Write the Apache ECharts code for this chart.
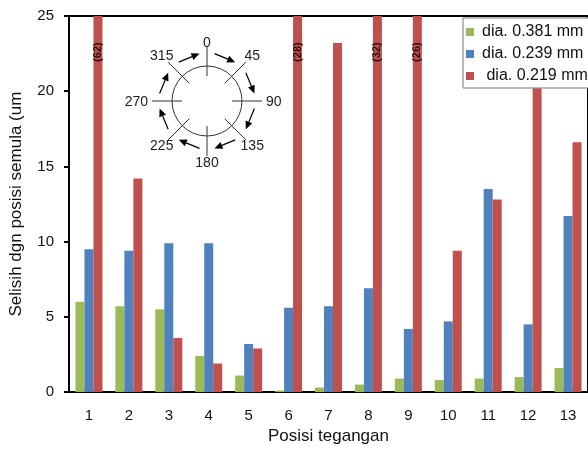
<!DOCTYPE html>
<html><head><meta charset="utf-8">
<script src="https://cdn.jsdelivr.net/npm/echarts@6/dist/echarts.min.js"></script>
<style>html,body{margin:0;padding:0;background:#fff}#c{width:588px;height:450px}</style>
</head><body><div id="c"></div>
<script>
// ---- data ----
const categories = ['1','2','3','4','5','6','7','8','9','10','11','12','13'];
const seriesNames = ['dia. 0.381 mm', 'dia. 0.239 mm', ' dia. 0.219 mm'];
const dia0381 = [6.0, 5.7, 5.5, 2.4, 1.1, 0.1, 0.3, 0.5, 0.9, 0.8, 0.9, 1.0, 1.6];
const dia0239 = [9.5, 9.4, 9.9, 9.9, 3.2, 5.6, 5.7, 6.9, 4.2, 4.7, 13.5, 4.5, 11.7];
const dia0219 = [62, 14.2, 3.6, 1.9, 2.9, 28, 23.2, 32, 26, 9.4, 12.8, 20.2, 16.6];
const yMin = 0, yMax = 25, yInterval = 5;
const compassAngles = [0, 45, 90, 135, 180, 225, 270, 315];

// ---- styles ----
const FONT = "'Liberation Sans', Arial, sans-serif";
const NARROW = "'Liberation Sans Narrow', 'Liberation Sans', Arial, sans-serif";
const colors = ['#9BBB59', '#4F81BD', '#C0504D'];
const LABEL_Y = 22.6; // anchor (data units) for labels of clipped bars

// ---- compass inset (decoration) ----
const cx = 207, cy = 101;
const rad = d => d * Math.PI / 180;
const g = [];
g.push({type:'circle', shape:{cx:cx, cy:cy, r:35}, style:{fill:'none', stroke:'#333', lineWidth:1}, z:10});
compassAngles.forEach(a => {
  const s = Math.sin(rad(a)), c = -Math.cos(rad(a));
  g.push({type:'line', shape:{x1:cx+25*s, y1:cy+25*c, x2:cx+55*s, y2:cy+55*c}, style:{stroke:'#333', lineWidth:1}, z:10});
  let tx, ty, al = 'center', va = 'middle';
  if (a === 0) { tx = cx; ty = cy - 51; va = 'bottom'; }
  else if (a === 180) { tx = cx; ty = cy + 55; va = 'top'; }
  else if (a === 90) { tx = cx + 59; ty = cy + 1; al = 'left'; }
  else if (a === 270) { tx = cx - 59; ty = cy + 1; al = 'right'; }
  else { tx = cx + 64 * s; ty = cy + 64 * c; }
  g.push({type:'text', x:tx, y:ty, z:10, style:{text:String(a), font:'14px ' + NARROW, fill:'#222', align:al, verticalAlign:va}});
  // arrow (clockwise)
  const R = 48, a1 = rad(a + 9), a2 = rad(a + 36);
  const x1 = cx + R*Math.sin(a1), y1 = cy - R*Math.cos(a1);
  const x2 = cx + R*Math.sin(a2), y2 = cy - R*Math.cos(a2);
  const dx = x2-x1, dy = y2-y1, L = Math.hypot(dx, dy), ux = dx/L, uy = dy/L;
  const hl = 8, hw = 3.6, bx = x2 - ux*hl, by = y2 - uy*hl;
  g.push({type:'line', shape:{x1:x1, y1:y1, x2:bx, y2:by}, style:{stroke:'#000', lineWidth:1.2}, z:10});
  g.push({type:'polygon', shape:{points:[[x2,y2],[bx-uy*hw, by+ux*hw],[bx+uy*hw, by-ux*hw]]}, style:{fill:'#000'}, z:10});
});

const clipLabelData = [];
dia0219.forEach((v, i) => { if (v > yMax) clipLabelData.push([categories[i], LABEL_Y, v]); });

const chart = echarts.init(document.getElementById('c'));
chart.setOption({
  animation: false,
  backgroundColor: '#fff',
  textStyle: {fontFamily: FONT},
  grid: {left: 68, top: 16, right: -5, bottom: 53, show: true, borderColor: '#000', borderWidth: 2, backgroundColor: 'transparent'},
  legend: {
    orient: 'vertical', left: 463, top: 18, data: seriesNames,
    icon: 'rect', itemWidth: 8, itemHeight: 8, itemGap: 6,
    backgroundColor: '#fff', borderColor: '#777', borderWidth: 1, padding: [6, 10, 4, 3],
    textStyle: {fontSize: 16, fontFamily: FONT, color: '#111', padding: [0, 0, 0, 3]}
  },
  xAxis: [{
    type: 'category', data: categories,
    name: 'Posisi tegangan', nameLocation: 'middle', nameGap: 34,
    nameTextStyle: {fontSize: 17, fontFamily: FONT, color: '#111'},
    axisLine: {lineStyle: {color: '#000', width: 2}},
    axisTick: {length: 6, lineStyle: {color: '#000', width: 2}},
    axisLabel: {fontSize: 15, margin: 16, color: '#111', fontFamily: FONT}
  }, {
    type: 'category', data: categories, position: 'bottom',
    axisLine: {show: false},
    axisTick: {alignWithLabel: true, inside: true, length: 3, lineStyle: {color: '#000', width: 2}},
    axisLabel: {show: false}
  }],
  yAxis: {
    type: 'value', min: yMin, max: yMax, interval: yInterval,
    name: 'Selisih dgn posisi semula (um', nameLocation: 'middle', nameGap: 44,
    nameTextStyle: {fontSize: 17, fontFamily: FONT, color: '#111'},
    axisLine: {show: true, lineStyle: {color: '#000', width: 2}},
    axisTick: {show: true, length: 5, lineStyle: {color: '#000', width: 2}},
    axisLabel: {fontSize: 15, margin: 15, color: '#111', fontFamily: FONT},
    splitLine: {show: false}
  },
  series: [
    {type: 'bar', name: seriesNames[0], data: dia0381, barWidth: 9, barGap: '0%', itemStyle: {color: colors[0]}},
    {type: 'bar', name: seriesNames[1], data: dia0239, barWidth: 9, barGap: '0%', itemStyle: {color: colors[1]}},
    {type: 'bar', name: seriesNames[2], data: dia0219, barWidth: 9, barGap: '0%', itemStyle: {color: colors[2]}},
    {type: 'scatter', name: 'clipped', data: clipLabelData, symbolSize: 0, silent: true, z: 5,
      label: {show: true, position: 'inside', rotate: 90, offset: [0, 9],
        formatter: p => '(' + p.value[2] + ')', fontSize: 11, fontWeight: 'bold', color: '#000', fontFamily: FONT}}
  ],
  graphic: g
});
</script></body></html>
